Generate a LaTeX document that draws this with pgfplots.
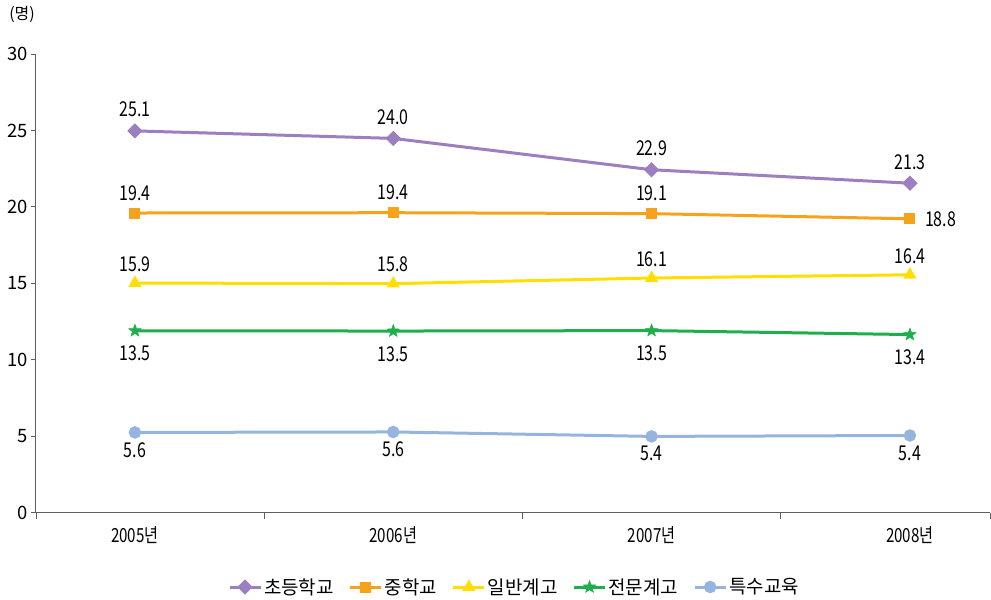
\documentclass[border=0pt]{standalone}
\usepackage{fontspec}
\setmainfont{Noto Sans CJK KR}
\newfontfamily\numf[FakeStretch=0.78]{Noto Sans CJK KR}
\usepackage{pgfplots}
\usepackage{pgfplotstable}
\pgfplotsset{compat=1.18}
\definecolor{cP}{RGB}{155,127,190}
\definecolor{cO}{RGB}{247,162,27}
\definecolor{cY}{RGB}{255,222,0}
\definecolor{cG}{RGB}{30,174,76}
\definecolor{cB}{RGB}{149,180,222}
\definecolor{axg}{RGB}{95,95,95}

\pgfdeclareplotmark{fstar}{%
  \pgfpathmoveto{\pgfqpoint{0pt}{\pgfplotmarksize}}%
  \pgfpathlineto{\pgfqpoint{0.247\pgfplotmarksize}{0.340\pgfplotmarksize}}%
  \pgfpathlineto{\pgfqpoint{0.951\pgfplotmarksize}{0.309\pgfplotmarksize}}%
  \pgfpathlineto{\pgfqpoint{0.399\pgfplotmarksize}{-0.130\pgfplotmarksize}}%
  \pgfpathlineto{\pgfqpoint{0.588\pgfplotmarksize}{-0.809\pgfplotmarksize}}%
  \pgfpathlineto{\pgfqpoint{0pt}{-0.420\pgfplotmarksize}}%
  \pgfpathlineto{\pgfqpoint{-0.588\pgfplotmarksize}{-0.809\pgfplotmarksize}}%
  \pgfpathlineto{\pgfqpoint{-0.399\pgfplotmarksize}{-0.130\pgfplotmarksize}}%
  \pgfpathlineto{\pgfqpoint{-0.951\pgfplotmarksize}{0.309\pgfplotmarksize}}%
  \pgfpathlineto{\pgfqpoint{-0.247\pgfplotmarksize}{0.340\pgfplotmarksize}}%
  \pgfpathclose
  \pgfusepathqfillstroke}

\pgfplotstableread{
x y lab
0 24.97 25.1
1 24.48 24.0
2 22.43 22.9
3 21.55 21.3
}\tP
\pgfplotstableread{
x y lab
0 15.02 15.9
1 14.98 15.8
2 15.35 16.1
3 15.56 16.4
}\tY
\pgfplotstableread{
x y lab
0 11.90 13.5
1 11.88 13.5
2 11.91 13.5
3 11.65 13.4
}\tG
\pgfplotstableread{
x y lab
0 5.25 5.6
1 5.28 5.6
2 4.99 5.4
3 5.05 5.4
}\tB

\begin{document}
\begin{tikzpicture}
\useasboundingbox (-36bp,-87.3bp) rectangle (955bp,512.7bp);
\begin{axis}[
  at={(0,0)}, anchor=south west,
  scale only axis, width=954bp, height=458.7bp,
  xmin=-0.383, xmax=3.31, ymin=0, ymax=30,
  axis x line=bottom, axis y line=left,
  axis line style={-, draw=axg, line width=1bp},
  tick align=outside,
  xtick={0,1,2,3},
  xticklabels={2005년,2006년,2007년,2008년},
  major x tick style={draw=none},
  minor xtick={-0.383,0.5,1.5,2.5,3.31},
  minor tick length=6bp,
  minor x tick style={draw=axg, line width=0.8bp},
  ytick={0,5,10,15,20,25,30},
  major y tick style={draw=axg, line width=0.8bp},
  major tick length=5bp,
  /pgf/number format/assume math mode=true,
  yticklabel style={font=\fontsize{18.5}{18.5}\selectfont, text=black},
  xticklabel style={font=\numf\fontsize{19.5}{19.5}\selectfont, text=black, yshift=-5bp},
  clip=false,
  legend columns=5,
  legend style={at={(0.5015,-0.162)}, anchor=center, draw=none, fill=none,
    font=\fontsize{19}{19}\selectfont,
    /tikz/every odd column/.append style={column sep=0bp},
    /tikz/every even column/.append style={column sep=13bp},
    cells={anchor=west}},
  legend image code/.code={%
    \draw[mark repeat=2,mark phase=2] plot coordinates {(0bp,0bp) (15.5bp,0bp) (31bp,0bp)};},
  every node near coord/.append style={font=\numf\fontsize{20.5}{20.5}\selectfont, text=black, inner sep=0pt},
]
\addplot[cP, line width=3bp, mark=square*, mark size=3.9bp, mark options={rotate=45, solid},
  nodes near coords, point meta=explicit symbolic,
  nodes near coords style={anchor=south, yshift=12.4bp}]
  table[x=x, y=y, meta=lab]{\tP};
\addlegendentry{초등학교}
\addplot[cO, line width=3bp, mark=square*, mark size=4bp, mark options={solid},
  nodes near coords, point meta=explicit symbolic,
  nodes near coords style={anchor=south, yshift=11bp}]
  coordinates {(0,19.60) [19.4] (1,19.62) [19.4] (2,19.56) [19.1] (3,19.22) []};
\addlegendentry{중학교}
\addplot[cY, line width=3bp, mark=triangle*, mark size=4.6bp, mark options={solid},
  nodes near coords, point meta=explicit symbolic,
  nodes near coords style={anchor=south, yshift=10bp}]
  table[x=x, y=y, meta=lab]{\tY};
\addlegendentry{일반계고}
\addplot[cG, line width=3bp, mark=fstar, mark size=6.5bp, mark options={solid, fill=cG, line width=0.5bp},
  nodes near coords, point meta=explicit symbolic,
  nodes near coords style={anchor=north, yshift=-15bp}]
  table[x=x, y=y, meta=lab]{\tG};
\addlegendentry{전문계고}
\addplot[cB, line width=3bp, mark=*, mark size=4.7bp, mark options={solid},
  nodes near coords, point meta=explicit symbolic,
  nodes near coords style={anchor=north, yshift=-8.5bp}]
  table[x=x, y=y, meta=lab]{\tB};
\addlegendentry{특수교육}
\addplot[draw=none, mark=none, forget plot,
  nodes near coords, point meta=explicit symbolic,
  nodes near coords style={anchor=west, xshift=15bp}]
  coordinates {(3,19.22) [18.8]};
\node[font=\fontsize{16}{16}\selectfont, text=black] at (rel axis cs:0,1) [xshift=-14bp, yshift=40bp] {(명)};
\end{axis}
\end{tikzpicture}
\end{document}
